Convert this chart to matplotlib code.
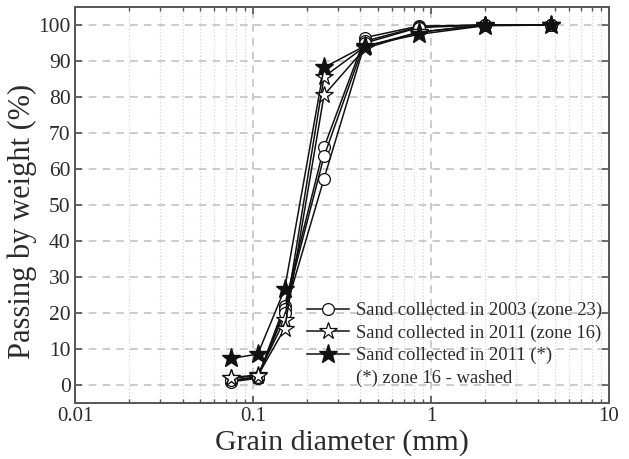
import numpy as np
import matplotlib.pyplot as plt
from matplotlib.lines import Line2D
from matplotlib.ticker import LogLocator, NullFormatter, FixedLocator

plt.rcParams['font.family'] = ['Liberation Serif', 'DejaVu Serif']

# --- data (sieve sizes in mm, % passing) ---
sieves = [0.075, 0.106, 0.15, 0.25, 0.425, 0.85, 2.0, 4.75]

# sand 2003 (zone 23), three samples
c1 = [1.0, 2.0, 22.0, 66.0, 96.5, 99.7, 100, 100]
c2 = [0.8, 1.8, 21.0, 63.5, 95.5, 99.5, 100, 100]
c3 = [1.2, 2.2, 20.0, 57.3, 95.0, 99.3, 100, 100]

# sand 2011 (zone 16), two samples
s1 = [2.0, 2.7, 18.0, 85.6, 94.0, 98.0, 100, 100]
s2 = [1.8, 2.5, 15.6, 80.5, 93.5, 98.0, 100, 100]

# sand 2011 washed
f1 = [7.3, 8.5, 26.5, 88.2, 94.2, 97.4, 99.8, 100]

labels = ["Sand collected in 2003 (zone 23)",
          "Sand collected in 2011 (zone 16)",
          "Sand collected in 2011 (*)",
          "(*) zone 16 - washed"]

txt = '#2b2b2b'
fig = plt.figure(figsize=(6.29, 4.59), dpi=100)
ax = fig.add_axes([0.120, 0.1227, 0.848, 0.862])

lw = 1.1
for c in (c1, c2, c3):
    ax.plot(sieves, c, '-o', color='#111111', lw=lw, ms=8.5,
            mfc='white', mec='#111111', mew=0.9, zorder=3)
for s in (s1, s2):
    ax.plot(sieves, s, '-*', color='#111111', lw=lw, ms=13,
            mfc='white', mec='#111111', mew=0.9, zorder=4)
ax.plot(sieves, f1, '-*', color='#111111', lw=lw, ms=14,
        mfc='#111111', mec='#111111', zorder=5)

ax.set_xscale('log')
ax.set_xlim(0.01, 10)
ax.set_ylim(-5, 105)
ax.set_yticks(np.arange(0, 101, 10))
ax.xaxis.set_major_locator(FixedLocator([0.01, 0.1, 1, 10]))
ax.xaxis.set_minor_locator(LogLocator(base=10, subs=np.arange(2, 10)))
ax.xaxis.set_minor_formatter(NullFormatter())
ax.set_xticklabels(['0.01', '0.1', '1', '10'])

ax.grid(which='major', color='#bdbdbd', ls=(0, (5, 4)), lw=1.1)
ax.grid(which='minor', axis='x', color='#cfcfcf', ls=(0, (1, 2)), lw=0.8)
ax.set_axisbelow(True)

ax.tick_params(which='both', direction='in', top=True, right=True,
               colors='#555555', labelcolor=txt, labelsize=15.5)
ax.tick_params(which='major', length=5, width=1.2)
ax.tick_params(which='minor', length=3, width=1.0)
ax.tick_params(axis='x', pad=3, labelsize=15)
for sp in ax.spines.values():
    sp.set_color('#555555')
    sp.set_linewidth(1.4)

ax.set_xlabel('Grain diameter (mm)', fontsize=21.5, color=txt)
ax.xaxis.set_label_coords(0.4994, -0.066)
ax.xaxis.label.set_va('top')
ax.set_ylabel('Passing by weight (%)', fontsize=22, color=txt)
ax.yaxis.set_label_coords(-0.073, 0.459)

handles = [
    Line2D([], [], color='#111111', lw=lw, marker='o', ms=8.5, mfc='white', mew=0.9),
    Line2D([], [], color='#111111', lw=lw, marker='*', ms=13, mfc='white', mew=0.9),
    Line2D([], [], color='#111111', lw=lw, marker='*', ms=14, mfc='#111111'),
    Line2D([], [], ls='none'),
]
leg = ax.legend(handles, labels, loc='upper left', bbox_to_anchor=(0.434, 0.254),
                frameon=False, fontsize=13.4, handlelength=2.26,
                handletextpad=0.4, labelspacing=0.27, borderpad=0,
                borderaxespad=0)
for t in leg.get_texts():
    t.set_color(txt)

fig.savefig('out.png', dpi=100)
